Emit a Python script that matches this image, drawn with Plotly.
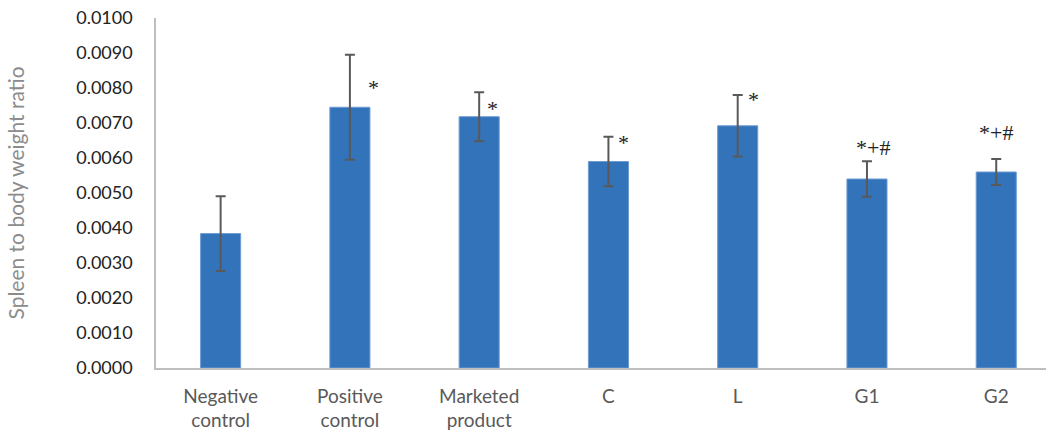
import plotly.graph_objects as go

# Group labels, mean spleen-to-body-weight ratios and their error bar half-widths
groups = ["Negative<br>control", "Positive<br>control", "Marketed<br>product", "C", "L", "G1", "G2"]
means = [0.00384, 0.00745, 0.00718, 0.00590, 0.00692, 0.00540, 0.00560]
errors = [0.00107, 0.00150, 0.00070, 0.00071, 0.00088, 0.00051, 0.00037]

# Significance marks shown beside each treated group
sig_labels = ["", "*", "*", "*", "*", "*+#", "*+#"]
sig_dx = [0.0, 0.18, 0.10, 0.12, 0.12, 0.05, 0.0]
sig_y = [0.0, 0.00802, 0.00741, 0.00645, 0.00767, 0.00630, 0.00672]

y_ticks = [i / 1000 for i in range(0, 11)]

fig = go.Figure()
fig.add_trace(go.Bar(
    x=list(range(len(groups))),
    y=means,
    width=0.31,
    marker=dict(color="#3373BA", line=dict(color="#6F9BD3", width=1)),
    error_y=dict(type="data", array=errors, visible=True,
                 color="#595959", thickness=2, width=5),
))

for i, (lab, dx, yy) in enumerate(zip(sig_labels, sig_dx, sig_y)):
    if lab:
        fig.add_annotation(x=i + dx, y=yy, text=lab, showarrow=False,
                           font=dict(family="Liberation Serif", size=22, color="#222222"))

fig.update_layout(
    width=1046, height=435,
    margin=dict(l=156, r=0, t=18, b=67),
    paper_bgcolor="white", plot_bgcolor="white",
    showlegend=False,
    font=dict(family="Lato", size=18, color="#595959"),
    xaxis=dict(
        range=[-0.5, 6.385],
        tickmode="array", tickvals=list(range(len(groups))), ticktext=groups,
        showline=True, linecolor="#BFBFBF", linewidth=1.5,
        showgrid=False, zeroline=False, ticks="",
        ticklabelstandoff=10,
        tickfont=dict(family="Lato", size=19, color="#595959"),
    ),
    yaxis=dict(
        range=[0, 0.0100],
        tickmode="array", tickvals=y_ticks, tickformat=".4f",
        showline=True, linecolor="#BFBFBF", linewidth=1.5,
        showgrid=False, zeroline=False, ticks="",
        ticklabelstandoff=18,
        tickfont=dict(family="Lato", size=18, color="#222222"),
        title=dict(text="Spleen to body weight ratio", standoff=46,
                   font=dict(family="Lato", size=21, color="#8C8C8C")),
    ),
)

fig.write_html("out.html")
